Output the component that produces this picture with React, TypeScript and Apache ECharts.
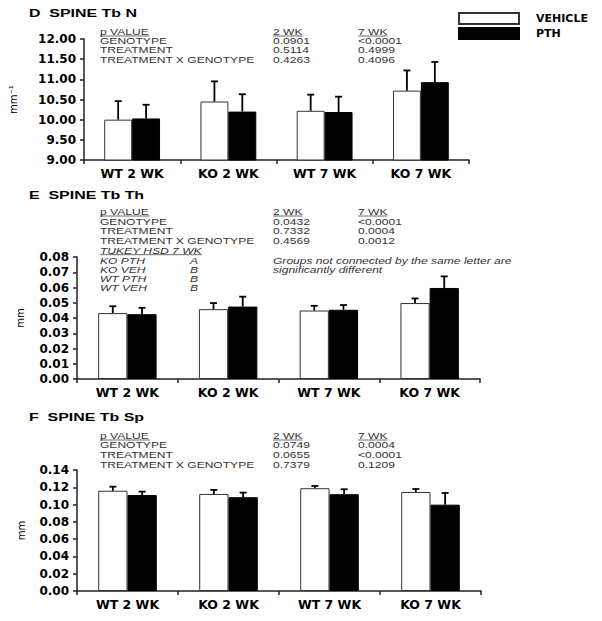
import React, { useEffect, useRef } from "react";
import * as echarts from "echarts";

// ---------- data ----------
const categories = ["WT 2 WK", "KO 2 WK", "WT 7 WK", "KO 7 WK"];
const seriesNames = ["VEHICLE", "PTH"];

// Panel D: SPINE Tb N (mm^-1)
const tbNVehicle = [10.0, 10.45, 10.22, 10.72];
const tbNVehicleErr = [0.46, 0.5, 0.4, 0.5];
const tbNPth = [10.03, 10.2, 10.19, 10.93];
const tbNPthErr = [0.34, 0.43, 0.38, 0.5];

// Panel E: SPINE Tb Th (mm)
const tbThVehicle = [0.0432, 0.0458, 0.0449, 0.0498];
const tbThVehicleErr = [0.0045, 0.004, 0.0031, 0.003];
const tbThPth = [0.0425, 0.0475, 0.0454, 0.0597];
const tbThPthErr = [0.0042, 0.0065, 0.0031, 0.0076];

// Panel F: SPINE Tb Sp (mm)
const tbSpVehicle = [0.116, 0.1123, 0.1189, 0.1146];
const tbSpVehicleErr = [0.0047, 0.0047, 0.0026, 0.0034];
const tbSpPth = [0.111, 0.1085, 0.112, 0.0999];
const tbSpPthErr = [0.004, 0.0053, 0.0057, 0.0135];

// axis ranges
const tbNAxis = { min: 9, max: 12, interval: 0.5 };
const tbThAxis = { min: 0, max: 0.08, interval: 0.01 };
const tbSpAxis = { min: 0, max: 0.14, interval: 0.02 };

// p-value tables
const pHeader = ["p VALUE", "2 WK", "7 WK"];
const pRowLabels = ["GENOTYPE", "TREATMENT", "TREATMENT X GENOTYPE"];
const tbNP2wk = ["0.0901", "0.5114", "0.4263"];
const tbNP7wk = ["<0.0001", "0.4999", "0.4096"];
const tbThP2wk = ["0.0432", "0.7332", "0.4569"];
const tbThP7wk = ["<0.0001", "0.0004", "0.0012"];
const tbSpP2wk = ["0.0749", "0.0655", "0.7379"];
const tbSpP7wk = ["0.0004", "<0.0001", "0.1209"];
const tukeyTitle = "TUKEY HSD 7 WK";
const tukeyGroups = ["KO PTH", "KO VEH", "WT PTH", "WT VEH"];
const tukeyLetters = ["A", "B", "B", "B"];
const tukeyNote = ["Groups not connected by the same letter are", "significantly different"];
const panelTitles = ["D  SPINE Tb N", "E  SPINE Tb Th", "F  SPINE Tb Sp"];
const yNames = ["mm\u207B\u00B9", "mm", "mm"];

// ---------- layout / style ----------
const BAR_FRAC = 0.29;
const SX = 1.42;
const TXT_FONT = "'Liberation Sans', Arial, sans-serif";
const AXIS_FONT = "'DejaVu Sans', sans-serif";

const grids = [
  { left: 77, top: 39, width: 392, height: 121 },
  { left: 77, top: 257, width: 403, height: 122 },
  { left: 77, top: 470, width: 404, height: 121 },
];
const nameGaps = [66, 52, 51];

function txt(x: number, y: number, text: string, o: any = {}) {
  return {
    type: "text",
    x,
    y,
    scaleX: o.sx ?? SX,
    silent: true,
    style: {
      text,
      fontFamily: TXT_FONT,
      fontSize: o.size ?? 8.5,
      fontWeight: o.bold ? "bold" : "normal",
      fontStyle: o.italic ? "italic" : "normal",
      fill: o.color ?? "#333",
      align: "left",
      verticalAlign: "middle",
    },
  };
}
function uline(x: number, y: number, w: number) {
  return {
    type: "line",
    silent: true,
    shape: { x1: x, y1: y, x2: x + w, y2: y },
    style: { stroke: "#444", lineWidth: 0.8 },
  };
}

function pTable(yHeader: number, rowYs: number[], col2: string[], col3: string[]) {
  const els: any[] = [];
  const cols = [100, 273, 358];
  const uw = [49.6, 29.5, 29.5];
  pHeader.forEach((h, i) => {
    els.push(txt(cols[i], yHeader, h));
    els.push(uline(cols[i], yHeader + 4, uw[i]));
  });
  pRowLabels.forEach((r, i) => {
    els.push(txt(cols[0], rowYs[i], r));
    els.push(txt(cols[1], rowYs[i], col2[i]));
    els.push(txt(cols[2], rowYs[i], col3[i]));
  });
  return els;
}

function errSeries(gi: number, values: number[], errs: number[], side: number, name: string) {
  return {
    type: "custom",
    name,
    xAxisIndex: gi,
    yAxisIndex: gi,
    silent: true,
    z: 5,
    data: values.map((v, i) => [i, v, v + errs[i]]),
    encode: { x: 0, y: [1, 2] },
    renderItem: (params: any, api: any) => {
      const i = api.value(0);
      const base = api.coord([i, api.value(1)]);
      const top = api.coord([i, api.value(2)]);
      const band = api.size([1, 0])[0];
      const x = base[0] + (side * band * BAR_FRAC) / 2;
      return {
        type: "group",
        children: [
          { type: "line", shape: { x1: x, y1: base[1], x2: x, y2: top[1] }, style: { stroke: "#000", lineWidth: 1.8 } },
          { type: "line", shape: { x1: x - 3.5, y1: top[1], x2: x + 3.5, y2: top[1] }, style: { stroke: "#000", lineWidth: 1.8 } },
        ],
      };
    },
  };
}

function barSeries(gi: number, values: number[], isPth: boolean) {
  return {
    type: "bar",
    name: isPth ? seriesNames[1] : seriesNames[0],
    xAxisIndex: gi,
    yAxisIndex: gi,
    data: values,
    barWidth: BAR_FRAC * 100 + "%",
    barGap: "0%",
    itemStyle: isPth
      ? { color: "#000", borderColor: "#000", borderWidth: 1 }
      : { color: "#fff", borderColor: "#333", borderWidth: 1 },
  };
}

export default function App() {
  const ref = useRef<HTMLDivElement>(null);
  useEffect(() => {
    if (!ref.current) return;
    const chart = echarts.init(ref.current, null, { renderer: "svg" });
    const axes = [tbNAxis, tbThAxis, tbSpAxis];

    const graphics: any[] = [];
    const titleYs = [13, 195, 417];
    panelTitles.forEach((t, i) => graphics.push(txt(29, titleYs[i], t, { bold: true, size: 11, sx: 1.45, color: "#000" })));
    graphics.push(...pTable(32, [41, 50.5, 60], tbNP2wk, tbNP7wk));
    graphics.push(...pTable(212, [221.7, 231.3, 240.7], tbThP2wk, tbThP7wk));
    graphics.push(...pTable(436, [445.5, 455, 464.7], tbSpP2wk, tbSpP7wk));
    graphics.push(txt(100, 250.7, tukeyTitle, { italic: true }));
    graphics.push(uline(100, 254.7, 102));
    const tkY = [260.7, 269.7, 279, 288.5];
    tukeyGroups.forEach((g, i) => {
      graphics.push(txt(100, tkY[i], g, { italic: true }));
      graphics.push(txt(190, tkY[i], tukeyLetters[i], { italic: true }));
    });
    graphics.push(txt(273, 260.7, tukeyNote[0], { italic: true }));
    graphics.push(txt(273, 270, tukeyNote[1], { italic: true }));

    chart.setOption({
      animation: false,
      backgroundColor: "#fff",
      legend: {
        data: seriesNames,
        orient: "vertical",
        left: 458,
        top: 12,
        padding: 0,
        itemWidth: 60,
        itemHeight: 11,
        itemGap: 2,
        icon: "rect",
        selectedMode: false,
        textStyle: {
          fontFamily: AXIS_FONT,
          fontWeight: "bold",
          fontSize: 11,
          color: "#000",
          padding: [0, 0, 0, 12],
        },
      },
      graphic: graphics,
      grid: grids.map((g) => ({ ...g, containLabel: false })),
      xAxis: grids.map((_, i) => ({
        type: "category",
        gridIndex: i,
        data: categories,
        axisLine: { lineStyle: { color: "#222", width: 1.5 } },
        axisTick: { show: true, length: 4, interval: 0, lineStyle: { color: "#222", width: 1.5 } },
        axisLabel: {
          fontFamily: AXIS_FONT,
          fontWeight: "bold",
          fontSize: 12.5,
          color: "#000",
          margin: 7,
          interval: 0,
        },
        splitLine: { show: false },
      })),
      yAxis: grids.map((_, i) => ({
        type: "value",
        gridIndex: i,
        min: axes[i].min,
        max: axes[i].max,
        interval: axes[i].interval,
        name: yNames[i],
        nameLocation: "middle",
        nameRotate: 90,
        nameGap: nameGaps[i],
        nameTextStyle: { fontFamily: AXIS_FONT, fontSize: 10, color: "#000" },
        axisLine: { show: true, lineStyle: { color: "#222", width: 1.5 } },
        axisTick: { show: true, length: 4, lineStyle: { color: "#222", width: 1.5 } },
        axisLabel: {
          fontFamily: AXIS_FONT,
          fontWeight: "bold",
          fontSize: 12,
          color: "#000",
          margin: 8,
          formatter: (v: number) => v.toFixed(2),
        },
        splitLine: { show: false },
      })),
      series: [
        barSeries(0, tbNVehicle, false),
        barSeries(0, tbNPth, true),
        barSeries(1, tbThVehicle, false),
        barSeries(1, tbThPth, true),
        barSeries(2, tbSpVehicle, false),
        barSeries(2, tbSpPth, true),
        errSeries(0, tbNVehicle, tbNVehicleErr, -1, "VEHICLE SEM"),
        errSeries(0, tbNPth, tbNPthErr, 1, "PTH SEM"),
        errSeries(1, tbThVehicle, tbThVehicleErr, -1, "VEHICLE SEM"),
        errSeries(1, tbThPth, tbThPthErr, 1, "PTH SEM"),
        errSeries(2, tbSpVehicle, tbSpVehicleErr, -1, "VEHICLE SEM"),
        errSeries(2, tbSpPth, tbSpPthErr, 1, "PTH SEM"),
      ],
    });
    return () => chart.dispose();
  }, []);
  return (
    <div
      ref={ref}
      style={{ position: "absolute", left: 0, top: 0, width: 602, height: 621, background: "#fff" }}
    />
  );
}
